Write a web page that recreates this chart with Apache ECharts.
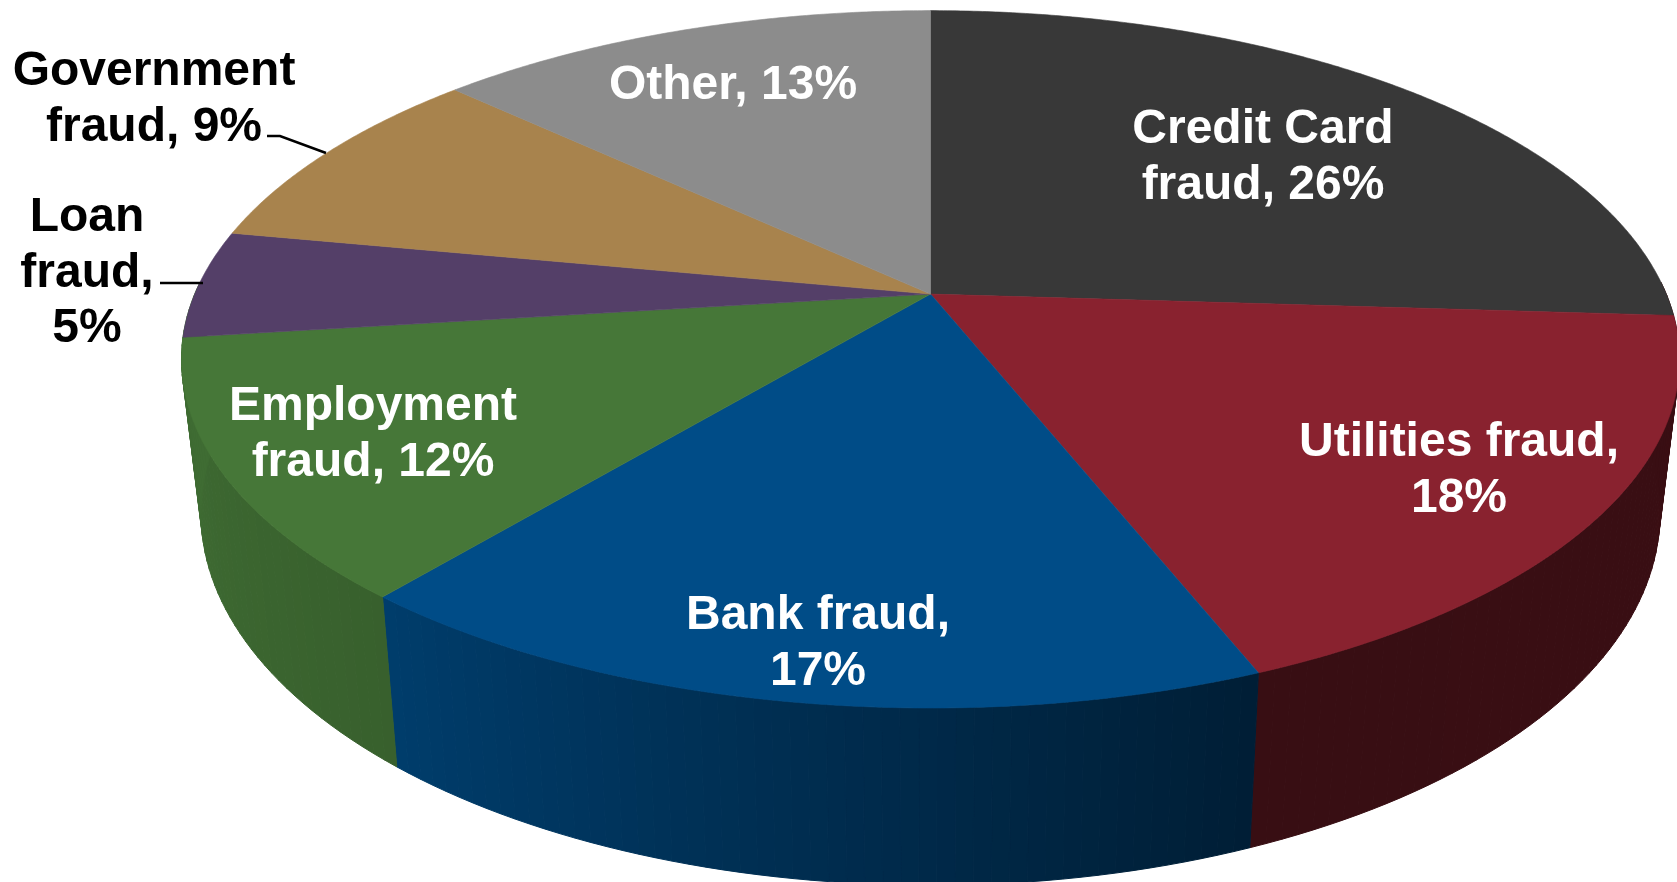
<!DOCTYPE html>
<html>
<head>
<meta charset="utf-8">
<style>html,body{margin:0;padding:0;background:#fff}#c{width:1677px;height:882px}</style>
<script src="https://cdn.jsdelivr.net/npm/echarts@6/dist/echarts.min.js"></script>
</head>
<body>
<div id="c"></div>
<script>
// Data
var categories = ['Credit Card\nfraud', 'Utilities fraud', 'Bank fraud', 'Employment\nfraud', 'Loan\nfraud', 'Government\nfraud', 'Other'];
var values = [26, 18, 17, 12, 5, 9, 13];
var valueBreaks = [' ', '\n', '\n', ' ', '\n', ' ', ' '];

// Styles
var topColors = ['#383838', '#89222f', '#004c87', '#467738', '#543f68', '#a8834d', '#8c8c8c'];
var sideFrom = ['#380e13', '#3a0e13', '#001e35', '#38602d', '#3f6c33', '#54421f', '#464646'];
var sideTo = ['#380e13', '#380e13', '#003d6c', '#3f6c33', '#3f6c33', '#54421f', '#464646'];
var labelColors = ['#fff', '#fff', '#fff', '#fff', '#000', '#000', '#fff'];
var labelX = [1263, 1459, 818, 373, 87, 154, 733];
var labelY = [157.5, 470.5, 643.5, 434.5, 273.5, 100, 86];
var leaderA = [[267, 136], [280, 136], [326, 153]];
var leaderB = [[160, 283], [203, 283]];

// Projection of the disc: a circle seen in perspective
var cx = 930.5, persp = -0.187;
var topRing = { a: 735.8, y0: 294.1, b: 281.5 };
var bottomRing = { a: 716.6, y0: 443.8, b: 275.9 };
var sideStart = 88 * Math.PI / 180, sideEnd = 272 * Math.PI / 180;

var total = values.reduce(function (s, v) { return s + v; }, 0);
var cum = [0];
values.forEach(function (v, i) { cum.push(cum[i] + v); });
function angle(c) { return 2 * Math.PI * c / total; }
function project(theta, ring) {
  var u = Math.sin(theta), v = -Math.cos(theta), d = 1 + persp * v;
  return [cx + ring.a * u / d, (ring.y0 + ring.b * v) / d];
}
var indices = values.map(function (_, i) { return i; });

function renderSide(params, api) {
  var i = api.value(0);
  var t0 = Math.max(angle(cum[i]), sideStart), t1 = Math.min(angle(cum[i + 1]), sideEnd);
  var children = [];
  if (t1 <= t0) return { type: 'group', children: children };
  var n = Math.max(1, Math.ceil((t1 - t0) / (1.2 * Math.PI / 180)));
  for (var k = 0; k < n; k++) {
    var a = t0 + (t1 - t0) * k / n, b = t0 + (t1 - t0) * (k + 1) / n;
    var col = echarts.color.lerp((k + 0.5) / n, [sideFrom[i], sideTo[i]]);
    children.push({
      type: 'polygon',
      shape: { points: [project(a, topRing), project(b, topRing), project(b, bottomRing), project(a, bottomRing)].map(api.coord) },
      style: { fill: col, stroke: col, lineWidth: 1 },
      silent: true
    });
  }
  return { type: 'group', children: children };
}

function renderTop(params, api) {
  var i = api.value(0);
  var t0 = angle(cum[i]), t1 = angle(cum[i + 1]);
  var n = Math.ceil((t1 - t0) / (0.4 * Math.PI / 180));
  var pts = [api.coord([cx, topRing.y0])];
  for (var k = 0; k <= n; k++) pts.push(api.coord(project(t0 + (t1 - t0) * k / n, topRing)));
  return { type: 'polygon', shape: { points: pts }, style: { fill: topColors[i], stroke: topColors[i], lineWidth: 0.6 } };
}

function renderLabel(params, api) {
  var i = api.value(0);
  var p = api.coord([labelX[i], labelY[i]]);
  return {
    type: 'text', x: p[0], y: p[1],
    style: {
      text: categories[i] + ',' + valueBreaks[i] + values[i] + '%',
      fill: labelColors[i], font: 'bold 48px "Liberation Sans", Arial, sans-serif',
      lineHeight: 55.6, align: 'center', verticalAlign: 'middle'
    }
  };
}

function renderLeaders(params, api) {
  return {
    type: 'group',
    children: [leaderA, leaderB].map(function (l) {
      return { type: 'polyline', shape: { points: l.map(api.coord) }, style: { stroke: '#000', lineWidth: 2.5, fill: null } };
    })
  };
}

var chart = echarts.init(document.getElementById('c'), null, { renderer: 'canvas' });
chart.setOption({
  animation: false,
  backgroundColor: '#fff',
  grid: { left: 0, right: 0, top: 0, bottom: 0 },
  xAxis: { type: 'value', min: 0, max: 1677, show: false },
  yAxis: { type: 'value', min: 0, max: 882, inverse: true, show: false },
  series: [
    { type: 'custom', renderItem: renderSide, data: indices, z: 1, silent: true, encode: { x: 0 } },
    { type: 'custom', renderItem: renderTop, data: indices, z: 2, silent: true, encode: { x: 0 } },
    { type: 'custom', renderItem: renderLeaders, data: [0], z: 3, silent: true, encode: { x: 0 } },
    { type: 'custom', renderItem: renderLabel, data: indices, z: 4, silent: true, encode: { x: 0 } }
  ]
});
</script>
</body>
</html>
